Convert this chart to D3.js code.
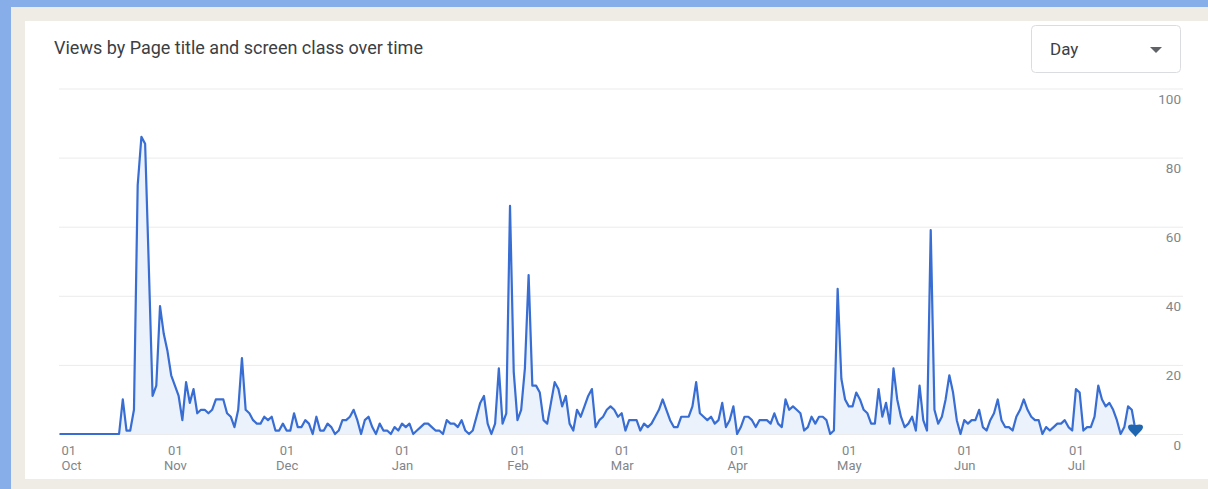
<!DOCTYPE html>
<html>
<head>
<meta charset="utf-8">
<script src="https://cdn.jsdelivr.net/npm/d3@7"></script>
<style>
  html, body { margin: 0; padding: 0; background: #87aee8; }
  svg { display: block; }
  text { font-family: Roboto, "Noto Sans", Arial, sans-serif; }
</style>
</head>
<body>
<svg id="chart" width="1208" height="489"></svg>
<script>
// ---- data ----
const startDate = "2022-10-01";
const views = [
  0,0,0,0,0,0,0,0,0,0,0,0,0,0,0,0,0,
  10,1,1,7,72,86,84,48,11,14,37,29,24,17,14,11,4,15,9,13,6,7,7,6,7,10,10,10,6,5,2,7,22,
  7,6,4,3,3,5,4,5,1,1,3,1,1,6,2,2,4,3,0,5,1,1,3,2,0,1,4,4,5,7,4,0,4,5,2,0,3,1,1,0,2,1,3,2,3,0,1,2,3,
  3,2,1,1,0,4,3,3,2,4,1,0,1,5,9,11,3,0,3,19,3,6,66,18,4,7,19,46,14,14,12,4,3,9,15,13,8,11,3,1,7,5,8,11,13,2,4,5,
  7,8,7,5,6,1,4,4,4,1,3,2,3,5,7,10,7,4,2,2,5,5,5,8,15,6,5,4,5,3,4,9,2,4,8,0,2,5,5,4,2,4,4,4,3,6,3,2,
  10,7,8,7,6,1,2,5,3,5,5,4,0,1,42,16,10,8,8,12,10,7,6,3,3,13,5,9,3,19,10,5,2,3,5,1,14,4,1,59,7,3,5,10,17,12,4,
  0,4,3,4,4,7,2,1,4,6,10,4,2,2,1,5,7,10,7,5,4,4,0,2,1,2,3,3,4,2,1,13,12,1,2,2,5,14,10,8,9,7,4,0,2,8,7,1
];
const yTicks = [0, 20, 40, 60, 80, 100];
const tickDays = ["01","01","01","01","01","01","01","01","01","01"];
const tickMonths = ["Oct","Nov","Dec","Jan","Feb","Mar","Apr","May","Jun","Jul"];
const titleText = "Views by Page title and screen class over time";
const dropdownText = "Day";

// ---- build ----
const parse = d3.utcParse("%Y-%m-%d");
const start = parse(startDate);
const data = views.map((v, i) => ({ date: d3.utcDay.offset(start, i), value: v }));

const svg = d3.select("#chart");
const W = 1208, H = 489;

// background layers
svg.append("rect").attr("x", 0).attr("y", 0).attr("width", W).attr("height", H).attr("fill", "#87aee8");
svg.append("rect").attr("x", 11).attr("y", 7).attr("width", W - 11).attr("height", H - 7).attr("fill", "#efebe5");
svg.append("rect").attr("x", 25).attr("y", 21).attr("width", W - 25).attr("height", 458).attr("fill", "#ffffff");

// title
svg.append("text").attr("x", 54).attr("y", 54)
  .attr("font-size", 18).attr("fill", "#3c4043").text(titleText);

// dropdown
const dd = svg.append("g");
dd.append("rect").attr("x", 1031.5).attr("y", 25.5).attr("width", 149).attr("height", 47)
  .attr("rx", 4).attr("fill", "#fff").attr("stroke", "#dadce0");
dd.append("text").attr("x", 1050).attr("y", 55).attr("font-size", 17).attr("fill", "#3c4043").text(dropdownText);
dd.append("path").attr("d", "M1150,47 L1162,47 L1156,53 Z").attr("fill", "#5f6368");

// scales
const x = d3.scaleUtc()
  .domain([data[0].date, data[data.length - 1].date])
  .range([59.5, 1135.5]);
const y = d3.scaleLinear().domain([0, 100]).range([434, 88.5]);

// gridlines + right axis labels
const yAxis = d3.axisRight(y).tickValues(yTicks).tickSize(0).tickFormat(d => d);
const gy = svg.append("g").attr("transform", "translate(1181,0)").call(yAxis);
gy.select(".domain").remove();
gy.selectAll("text")
  .attr("x", 0).attr("dy", "15px")
  .attr("text-anchor", "end")
  .attr("font-size", 13.5)
  .attr("fill", "#80868b");
const grid = svg.insert("g", "g").attr("class", "grid");
grid.selectAll("line").data(yTicks).join("line")
  .attr("x1", 59).attr("x2", 1183)
  .attr("y1", d => y(d) + 0.5).attr("y2", d => y(d) + 0.5)
  .attr("stroke", "#ebebeb").attr("stroke-width", 1);

// area + line
const area = d3.area().x(d => x(d.date)).y0(y(0)).y1(d => y(d.value)).curve(d3.curveLinear);
const line = d3.line().x(d => x(d.date)).y(d => y(d.value)).curve(d3.curveLinear);
svg.append("path").datum(data).attr("d", area).attr("fill", "#e8f0fc").attr("opacity", 0.85);
svg.append("path").datum(data).attr("d", line).attr("fill", "none")
  .attr("stroke", "#386dd3").attr("stroke-width", 2.2).attr("stroke-linejoin", "round");

// end marker
const last = data[data.length - 1];
svg.append("path")
  .attr("transform", `translate(${x(last.date)},${y(last.value) - 1})`)
  .attr("d", "M0,7.5 C-2,4.5 -7.5,0.5 -7.5,-2.5 C-7.5,-5.5 -4,-5.5 0,-4.5 C4,-5.5 7.5,-5.5 7.5,-2.5 C7.5,0.5 2,4.5 0,7.5 Z")
  .attr("fill", "#1f65b0");

// x axis
const monthTicks = d3.utcMonth.range(d3.utcMonth.ceil(data[0].date), d3.utcDay.offset(last.date, 1));
const xAxis = d3.axisBottom(x).tickValues(monthTicks).tickSize(0).tickFormat(() => "");
const gx = svg.append("g").attr("transform", "translate(0,440)").call(xAxis);
gx.select(".domain").remove();
gx.selectAll(".tick text").each(function(d, i) {
  const t = d3.select(this)
    .attr("font-size", 13).attr("fill", "#80868b")
    .attr("text-anchor", i === 0 ? "start" : "middle")
    .attr("y", 0).attr("dy", 0);
  t.text(null);
  t.append("tspan").attr("x", i === 0 ? 1.5 : 0).attr("dy", "15px").text(tickDays[i]);
  t.append("tspan").attr("x", i === 0 ? 1.5 : 0).attr("dy", "15px").text(tickMonths[i]);
});
</script>
</body>
</html>
